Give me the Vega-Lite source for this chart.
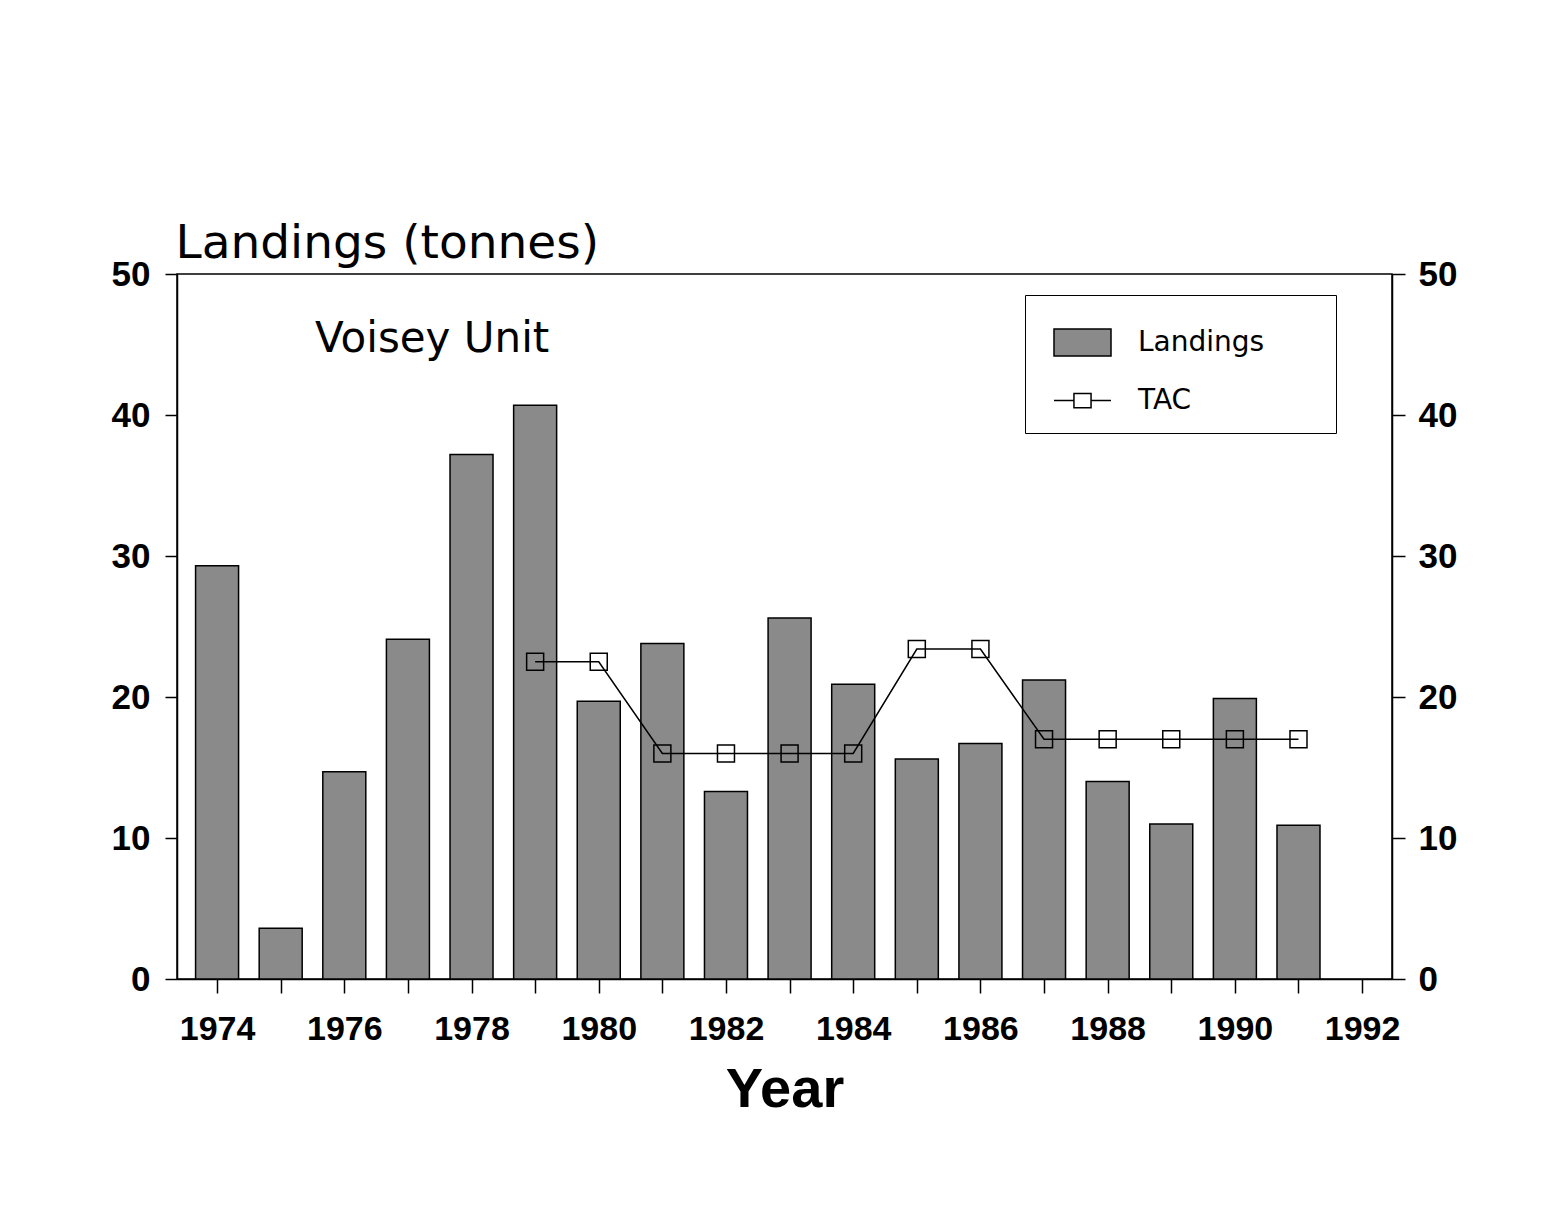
{
  "$schema": "https://vega.github.io/schema/vega-lite/v6.json",
  "width": 1215,
  "height": 705,
  "autosize": {"type": "none"},
  "padding": {"left": 177, "top": 274, "right": 156, "bottom": 243},
  "background": "white",
  "datasets": {
    "landings": [
      {"year": 1974, "tonnes": 29.3},
      {"year": 1975, "tonnes": 3.6},
      {"year": 1976, "tonnes": 14.7},
      {"year": 1977, "tonnes": 24.1},
      {"year": 1978, "tonnes": 37.2},
      {"year": 1979, "tonnes": 40.7},
      {"year": 1980, "tonnes": 19.7},
      {"year": 1981, "tonnes": 23.8},
      {"year": 1982, "tonnes": 13.3},
      {"year": 1983, "tonnes": 25.6},
      {"year": 1984, "tonnes": 20.9},
      {"year": 1985, "tonnes": 15.6},
      {"year": 1986, "tonnes": 16.7},
      {"year": 1987, "tonnes": 21.2},
      {"year": 1988, "tonnes": 14.0},
      {"year": 1989, "tonnes": 11.0},
      {"year": 1990, "tonnes": 19.9},
      {"year": 1991, "tonnes": 10.9}
    ],
    "tac": [
      {"year": 1979, "tac": 22.5},
      {"year": 1980, "tac": 22.5},
      {"year": 1981, "tac": 16.0},
      {"year": 1982, "tac": 16.0},
      {"year": 1983, "tac": 16.0},
      {"year": 1984, "tac": 16.0},
      {"year": 1985, "tac": 23.4},
      {"year": 1986, "tac": 23.4},
      {"year": 1987, "tac": 17.0},
      {"year": 1988, "tac": 17.0},
      {"year": 1989, "tac": 17.0},
      {"year": 1990, "tac": 17.0},
      {"year": 1991, "tac": 17.0}
    ],
    "caption": [
      {"label": "Voisey Unit"}
    ],
    "key": []
  },
  "resolve": {"axis": {"y": "independent"}},
  "layer": [
    {
      "data": {"name": "landings"},
      "mark": {"type": "bar", "width": 43, "stroke": "black", "strokeWidth": 1.5, "opacity": 1},
      "encoding": {
        "x": {
          "field": "year",
          "type": "quantitative",
          "scale": {"domain": [1973.37, 1992.47], "nice": false, "zero": false, "padding": 0},
          "axis": {
            "orient": "bottom",
            "values": [1974, 1975, 1976, 1977, 1978, 1979, 1980, 1981, 1982, 1983, 1984, 1985, 1986, 1987, 1988, 1989, 1990, 1991, 1992],
            "format": "d",
            "labelExpr": "datum.value % 2 === 0 ? datum.label : ''",
            "title": "Year",
            "titleFont": "Liberation Sans",
            "titleFontSize": 56,
            "titleFontWeight": "bold",
            "titleColor": "black",
            "titlePadding": 16,
            "labelFont": "Liberation Sans",
            "labelFontSize": 34,
            "labelFontWeight": "bold",
            "labelColor": "black",
            "labelPadding": 19,
            "labelFlush": false,
            "labelOverlap": false,
            "tickSize": 14,
            "tickWidth": 1.5,
            "tickColor": "black",
            "domainColor": "black",
            "domainWidth": 1.5,
            "grid": false
          }
        },
        "y": {
          "field": "tonnes",
          "type": "quantitative",
          "scale": {"domain": [0, 50], "nice": false},
          "axis": {
            "orient": "left",
            "values": [0, 10, 20, 30, 40, 50],
            "title": "Landings (tonnes)",
            "titleAngle": 0,
            "titleAlign": "left",
            "titleBaseline": "alphabetic",
            "titleX": -2,
            "titleY": -17,
            "titleFont": "DejaVu Sans",
            "titleFontSize": 47,
            "titleFontWeight": "normal",
            "titleColor": "black",
            "labelFont": "Liberation Sans",
            "labelFontSize": 35,
            "labelFontWeight": "bold",
            "labelColor": "black",
            "labelPadding": 15,
            "labelFlush": false,
            "tickSize": 12,
            "tickWidth": 1.5,
            "tickColor": "black",
            "domainColor": "black",
            "domainWidth": 1.5,
            "grid": false
          }
        },
        "fill": {
          "datum": "Landings",
          "type": "nominal",
          "scale": {"domain": ["Landings", "TAC"], "range": ["#8a8a8a", "transparent"]},
          "legend": {
            "orient": "none",
            "legendX": 848,
            "legendY": 21,
            "title": null,
            "direction": "vertical",
            "padding": 18,
            "strokeColor": "black",
            "fillColor": "white",
            "symbolSize": 3249,
            "symbolOffset": 10,
            "symbolStrokeColor": "black",
            "symbolStrokeWidth": 1.5,
            "symbolOpacity": 1,
            "labelOffset": 26,
            "rowPadding": 12,
            "labelFont": "DejaVu Sans",
            "labelFontSize": 28,
            "labelColor": "black",
            "labelLimit": 400,
            "labelExpr": "datum.label + '\u00a0\u00a0\u00a0\u00a0\u00a0\u00a0\u200b'"
          }
        }
      }
    },
    {
      "data": {"name": "tac"},
      "mark": {"type": "line", "stroke": "black", "strokeWidth": 1.5},
      "encoding": {
        "x": {"field": "year", "type": "quantitative"},
        "y": {
          "field": "tac",
          "type": "quantitative",
          "axis": {
            "orient": "right",
            "values": [0, 10, 20, 30, 40, 50],
            "title": null,
            "labelFont": "Liberation Sans",
            "labelFontSize": 35,
            "labelFontWeight": "bold",
            "labelColor": "black",
            "labelPadding": 13,
            "labelFlush": false,
            "tickSize": 13,
            "tickWidth": 1.5,
            "tickColor": "black",
            "domainColor": "black",
            "domainWidth": 1.5,
            "grid": false
          }
        }
      }
    },
    {
      "data": {"name": "tac"},
      "mark": {"type": "point", "shape": "square", "size": 289, "stroke": "black", "strokeWidth": 1.5, "opacity": 1},
      "encoding": {
        "x": {"field": "year", "type": "quantitative"},
        "y": {"field": "tac", "type": "quantitative", "axis": null},
        "fill": {"datum": "TAC", "type": "nominal"}
      }
    },
    {
      "data": {"name": "key"},
      "mark": {"type": "point", "stroke": "black", "strokeWidth": 1.5, "opacity": 1},
      "encoding": {
        "x": {"field": "year", "type": "quantitative"},
        "y": {"field": "tac", "type": "quantitative", "axis": null},
        "shape": {
          "datum": "TAC",
          "type": "nominal",
          "scale": {
            "domain": ["Landings", "TAC"],
            "range": ["M-1,-0.47H1V0.47H-1Z", "M-1,0H-0.3M0.3,0H1M-0.3,-0.25H0.3V0.25H-0.3Z"]
          },
          "legend": {
            "orient": "none",
            "legendX": 848,
            "legendY": 21,
            "title": null,
            "direction": "vertical",
            "padding": 18,
            "strokeColor": "black",
            "fillColor": "white",
            "symbolSize": 3249,
            "symbolOffset": 10,
            "symbolStrokeColor": "black",
            "symbolStrokeWidth": 1.5,
            "symbolOpacity": 1,
            "labelOffset": 26,
            "rowPadding": 12,
            "labelFont": "DejaVu Sans",
            "labelFontSize": 28,
            "labelColor": "black",
            "labelLimit": 400,
            "labelExpr": "datum.label + '\u00a0\u00a0\u00a0\u00a0\u00a0\u00a0\u200b'"
          }
        }
      }
    },
    {
      "data": {"name": "caption"},
      "mark": {"type": "text", "align": "left", "baseline": "alphabetic", "font": "DejaVu Sans", "fontSize": 42, "color": "black"},
      "encoding": {
        "x": {"datum": 1975.54, "type": "quantitative"},
        "y": {"datum": 44.47, "type": "quantitative", "axis": null},
        "text": {"field": "label"}
      }
    }
  ],
  "config": {
    "view": {"stroke": "black", "strokeWidth": 1.5},
    "font": "Liberation Sans"
  }
}
